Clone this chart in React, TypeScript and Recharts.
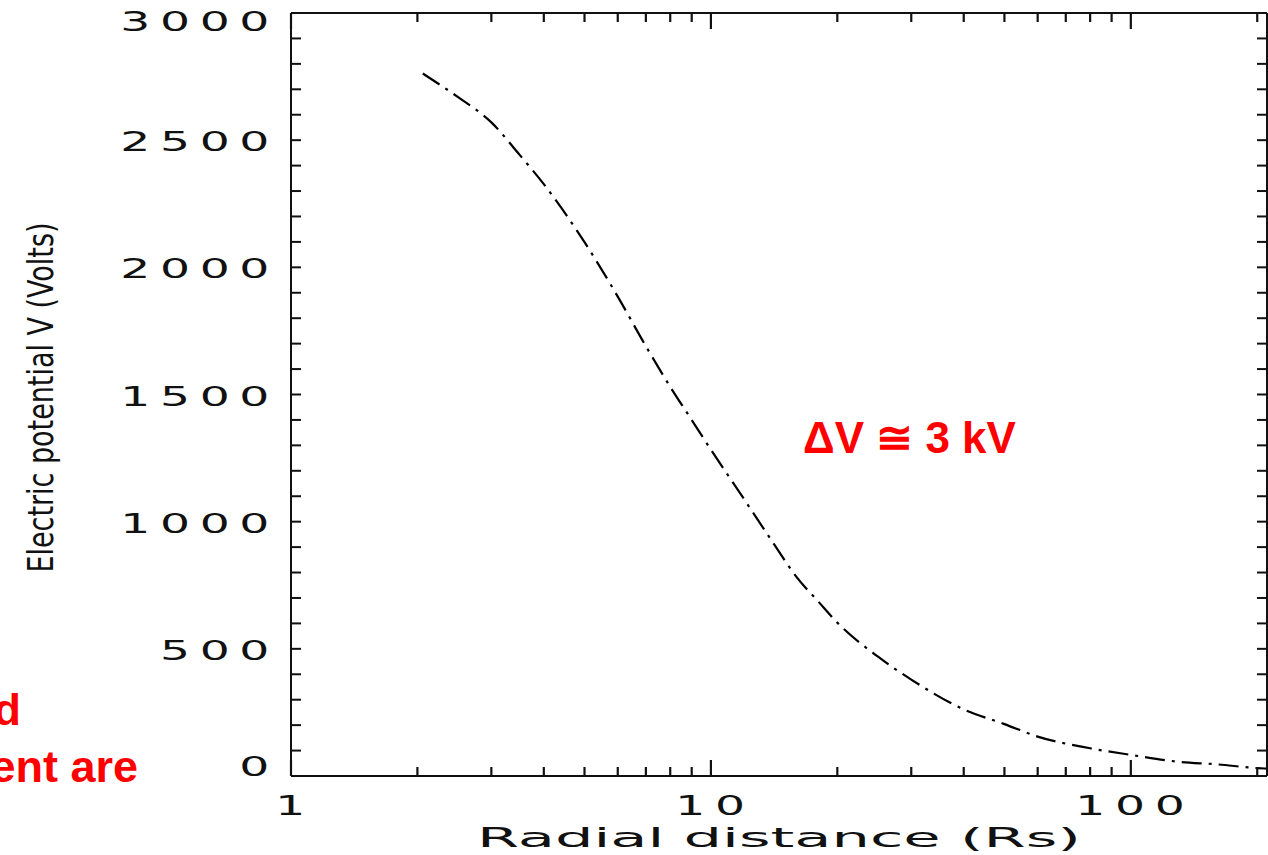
import React from 'react';
import { LineChart, Line, XAxis, YAxis } from 'recharts';

// Radial distance (Rs) and electric potential (Volts)
const radius = [2.06, 2.5, 3, 3.5, 4, 5, 6, 7, 8, 9, 10, 12, 14, 16, 18, 20, 25, 30, 40, 50, 60, 80, 100, 130, 160, 200, 211];
const potential = [2762, 2669, 2570, 2443, 2327, 2099, 1885, 1690, 1530, 1400, 1283, 1088, 922, 782, 687, 603, 469, 379, 262, 204, 155, 109, 83, 56, 46, 31, 29];

const xDomain = [1, 211];
const xMajorTicks = [1, 10, 100];
const xMajorLabels = ['1', '10', '100'];
const xAllTicks = [1, 2, 3, 4, 5, 6, 7, 8, 9, 10, 20, 30, 40, 50, 60, 70, 80, 90, 100, 200];

const yDomain = [0, 3000];
const yAllTicks = [0, 100, 200, 300, 400, 500, 600, 700, 800, 900, 1000, 1100, 1200, 1300, 1400, 1500, 1600, 1700, 1800, 1900, 2000, 2100, 2200, 2300, 2400, 2500, 2600, 2700, 2800, 2900, 3000];
const yMajorTicks = [0, 500, 1000, 1500, 2000, 2500, 3000];
const yMajorLabels = ['0', '500', '1000', '1500', '2000', '2500', '3000'];

const xTitle = 'Radial distance (Rs)';
const yTitle = 'Electric potential V (Volts)';
const annotation = 'ΔV ≅ 3 kV';
const cutTextLine1 = 'd';
const cutTextLine2 = 'ent are';

const data = radius.map((r, i) => ({ r, v: potential[i] }));

const FONT = '"DejaVu Sans", "Liberation Sans", sans-serif';
const SX = 1.75;
const LS = 5.5;
const INK = '#111';

function renderXTick(p: any, where: string) {
  const x = Number(p.x);
  const y = Number(p.y);
  const v = Number(p.payload && p.payload.value);
  const idx = xMajorTicks.indexOf(v);
  const len = idx >= 0 ? 16 : 9;
  const dir = where === 'bottom' ? -1 : 1;
  return (
    <g key={`xt-${where}-${v}`}>
      <line x1={x} x2={x} y1={y} y2={y + dir * len} stroke={INK} strokeWidth={2.2} />
      {where === 'bottom' && idx >= 0 ? (
        <text
          transform={`translate(${x + 4}, ${y + 39}) scale(${SX},1)`}
          textAnchor="middle"
          fontSize={27}
          letterSpacing={LS}
          fontFamily={FONT}
          fill={INK}
        >
          {xMajorLabels[idx]}
        </text>
      ) : null}
    </g>
  );
}

function renderYTick(p: any, where: string) {
  const x = Number(p.x);
  const y = Number(p.y);
  const v = Number(p.payload && p.payload.value);
  const idx = yMajorTicks.indexOf(v);
  const dir = where === 'left' ? 1 : -1;
  let shift = 2;
  if (v === yDomain[1]) shift = 9;
  if (v === yDomain[0]) shift = -9;
  return (
    <g key={`yt-${where}-${v}`}>
      <line x1={x} x2={x + dir * 10} y1={y} y2={y} stroke={INK} strokeWidth={2} />
      {where === 'left' && idx >= 0 ? (
        <text
          transform={`translate(${x - 12}, ${y + 9 + shift}) scale(${SX},1)`}
          textAnchor="end"
          fontSize={27}
          letterSpacing={LS}
          fontFamily={FONT}
          fill={INK}
        >
          {yMajorLabels[idx]}
        </text>
      ) : null}
    </g>
  );
}

function XTitle(props: any) {
  const vb = props.viewBox || { x: 0, y: 0, width: 0, height: 0 };
  return (
    <text x={vb.x + vb.width / 2} y={vb.y + 71} textAnchor="middle" fontSize={26} fontFamily={FONT} fill={INK} textLength={604} lengthAdjust="spacingAndGlyphs">
      {xTitle}
    </text>
  );
}

function YTitle(props: any) {
  const vb = props.viewBox || { x: 0, y: 0, width: 0, height: 0 };
  const cx = 53;
  const cy = vb.y + vb.height / 2 + 3;
  return (
    <text transform={`translate(${cx}, ${cy}) rotate(-90)`} textAnchor="middle" fontSize={35} fontFamily={FONT} fill={INK} textLength={350} lengthAdjust="spacingAndGlyphs">
      {yTitle}
    </text>
  );
}

export default function App() {
  return (
    <div style={{ position: 'absolute', left: 0, top: 0, width: 1268, height: 855, background: '#fff' }}>
      <LineChart width={1268} height={855} data={data} margin={{ top: 12, right: 0, bottom: 0, left: 0 }}>
        <XAxis xAxisId="bottom" dataKey="r" type="number" scale="log" domain={xDomain} allowDataOverflow ticks={xAllTicks} interval={0} orientation="bottom" height={79} tickSize={0} tickMargin={0} tickLine={false} axisLine={{ stroke: INK, strokeWidth: 2 }} tick={(p: any) => renderXTick(p, 'bottom')} label={<XTitle />} />
        <XAxis xAxisId="top" dataKey="r" type="number" scale="log" domain={xDomain} allowDataOverflow ticks={xAllTicks} interval={0} orientation="top" height={1} tickSize={0} tickMargin={0} tickLine={false} axisLine={{ stroke: INK, strokeWidth: 2 }} tick={(p: any) => renderXTick(p, 'top')} />
        <YAxis yAxisId="left" type="number" domain={yDomain} allowDataOverflow ticks={yAllTicks} interval={0} orientation="left" width={291} tickSize={0} tickMargin={0} tickLine={false} axisLine={{ stroke: INK, strokeWidth: 2 }} tick={(p: any) => renderYTick(p, 'left')} label={<YTitle />} />
        <YAxis yAxisId="right" type="number" domain={yDomain} allowDataOverflow ticks={yAllTicks} interval={0} orientation="right" width={1} tickSize={0} tickMargin={0} tickLine={false} axisLine={{ stroke: INK, strokeWidth: 2 }} tick={(p: any) => renderYTick(p, 'right')} />
        <Line xAxisId="top" yAxisId="right" dataKey="v" type="monotone" stroke="none" strokeWidth={0} dot={false} activeDot={false} legendType="none" isAnimationActive={false} />
        <Line xAxisId="bottom" yAxisId="left" dataKey="v" type="monotone" stroke="#000" strokeWidth={2.2} strokeDasharray="20 7 3 7" dot={false} activeDot={false} isAnimationActive={false} />
      </LineChart>
      <svg width={1268} height={855} style={{ position: 'absolute', left: 0, top: 0, pointerEvents: 'none' }}>
        <text x={803} y={453} fontSize={44} fontWeight="bold" fontFamily='"Liberation Sans", Arial, sans-serif' fill="#ff0000">{annotation}</text>
        <text x={21} y={725} textAnchor="end" fontSize={45} fontWeight="bold" fontFamily='"Liberation Sans", Arial, sans-serif' fill="#ff0000">{cutTextLine1}</text>
        <text x={138} y={782} textAnchor="end" fontSize={45} fontWeight="bold" fontFamily='"Liberation Sans", Arial, sans-serif' fill="#ff0000">{cutTextLine2}</text>
      </svg>
    </div>
  );
}
